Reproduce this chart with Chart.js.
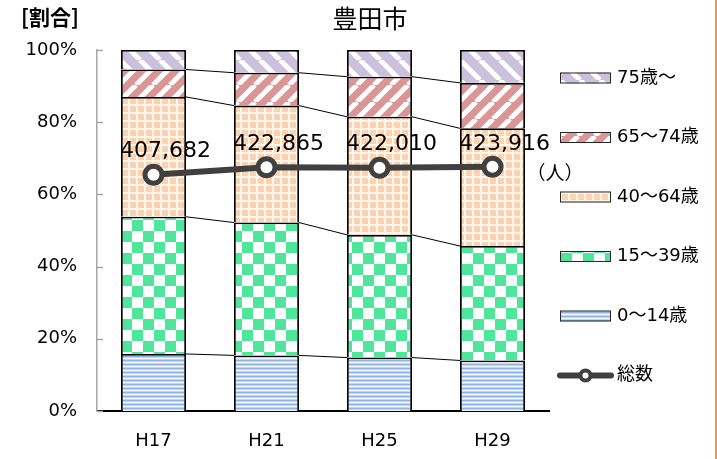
<!DOCTYPE html>
<html lang="ja">
<head>
<meta charset="utf-8">
<title>豊田市 年齢別人口割合</title>
<script src="https://cdn.jsdelivr.net/npm/chart.js@4/dist/chart.umd.min.js"></script>
<style>
  html, body { margin: 0; padding: 0; background: #fff; }
  #wrap { position: relative; width: 717px; height: 459px; overflow: hidden; }
  #wrap::after { content: ""; position: absolute; top: 0; right: 0; width: 2px; height: 100%; background: #f79646; }
  canvas { display: block; }
</style>
</head>
<body>
<div id="wrap"><canvas id="chart" width="717" height="459"></canvas></div>
<script>
// 年次
const categories = ['H17', 'H21', 'H25', 'H29'];

// 年齢区分別の割合（%）
const age0to14  = [15.8, 15.4, 14.8, 14.0];
const age15to39 = [38.0, 36.8, 34.0, 31.7];
const age40to64 = [33.2, 32.4, 32.7, 32.6];
const age65to74 = [7.6, 9.1, 11.1, 12.6];
const age75plus = [5.4, 6.3, 7.4, 9.1];

// 総数（人）
const totalPop = [407682, 422865, 422010, 423916];

// 縦軸の目盛り
const percentTicks = [0, 20, 40, 60, 80, 100];

const LATIN = '"DejaVu Sans", "Noto Sans CJK JP", sans-serif';
const CJK = '"Noto Sans CJK JP", "DejaVu Sans", sans-serif';

// ---- 塗りつぶしパターン ----
function tile(w, h, paint) {
  const c = document.createElement('canvas');
  c.width = w; c.height = h;
  paint(c.getContext('2d'), w, h);
  return c;
}
function stripes(bg, dir, size, lw) {
  return tile(size, size, (g, w, h) => {
    g.fillStyle = bg; g.fillRect(0, 0, w, h);
    g.strokeStyle = '#ffffff'; g.lineWidth = lw;
    for (let k = -1; k <= 1; k++) {
      g.beginPath();
      if (dir === 'back') { g.moveTo(k * w, 0); g.lineTo(k * w + w, h); }
      else { g.moveTo(k * w, h); g.lineTo(k * w + w, 0); }
      g.stroke();
    }
  });
}
const tiles = {
  a75: stripes('#ccc1da', 'back', 20, 5),
  a65: stripes('#d99694', 'fwd', 17, 5),
  a40: tile(8, 8, (g) => {
    g.fillStyle = '#fcd3b1'; g.fillRect(0, 0, 8, 8);
    g.fillStyle = '#fff6ee'; g.fillRect(0, 0, 8, 2); g.fillRect(0, 0, 2, 8);
  }),
  a15: tile(22, 22, (g) => {
    g.fillStyle = '#ffffff'; g.fillRect(0, 0, 22, 22);
    g.fillStyle = '#4fe59a'; g.fillRect(0, 0, 11, 11); g.fillRect(11, 11, 11, 11);
  }),
  a0: tile(4, 4, (g) => {
    const rows = ['#8fb3e2', '#c3d7f0', '#f1f6fc', '#c3d7f0'];
    rows.forEach((col, i) => { g.fillStyle = col; g.fillRect(0, i, 4, 1); });
  })
};
const cv = document.getElementById('chart');
const ctx = cv.getContext('2d');
const pat = {};
Object.keys(tiles).forEach(k => { pat[k] = ctx.createPattern(tiles[k], 'repeat'); });

const barCommon = {
  type: 'bar',
  yAxisID: 'y',
  borderColor: '#000000',
  borderWidth: 1.8,
  borderSkipped: 'start',
  barPercentage: 0.575,
  categoryPercentage: 1,
  order: 2
};

// ---- 区分線（各棒の境界を結ぶ線）----
const seriesLines = {
  id: 'seriesLines',
  beforeDatasetsDraw(chart) {
    const g = chart.ctx;
    g.save();
    g.strokeStyle = '#000'; g.lineWidth = 1;
    chart.data.datasets.forEach((ds, di) => {
      if (ds.type !== 'bar' || di === 4) return;
      const els = chart.getDatasetMeta(di).data;
      for (let i = 0; i < els.length - 1; i++) {
        const a = els[i], b = els[i + 1];
        g.beginPath();
        g.moveTo(a.x + a.width / 2, a.y);
        g.lineTo(b.x - b.width / 2, b.y);
        g.stroke();
      }
    });
    g.restore();
  }
};

// ---- 縦軸の内向き目盛り ----
const innerTicks = {
  id: 'innerTicks',
  afterDraw(chart) {
    const g = chart.ctx, s = chart.scales.y;
    g.save();
    g.strokeStyle = '#a6a6a6'; g.lineWidth = 1.5;
    percentTicks.forEach(v => {
      const y = Math.round(s.getPixelForValue(v)) + 0.5;
      g.beginPath(); g.moveTo(s.right, y); g.lineTo(s.right + 6, y); g.stroke();
    });
    g.restore();
  }
};

// ---- 総数の値ラベル ----
const totalLabels = {
  id: 'totalLabels',
  afterDatasetsDraw(chart) {
    const g = chart.ctx;
    const idx = chart.data.datasets.findIndex(d => d.type === 'line');
    const pts = chart.getDatasetMeta(idx).data;
    g.save();
    g.fillStyle = '#000';
    g.textAlign = 'center'; g.textBaseline = 'middle';
    g.font = '22px ' + LATIN;
    pts.forEach((p, i) => {
      g.fillText(totalPop[i].toLocaleString('en-US'), p.x + 12, p.y - 23);
    });
    const last = pts[pts.length - 1];
    g.textAlign = 'left';
    g.font = '19px ' + CJK;
    g.fillText('（人）', last.x + 34, last.y + 6);
    g.restore();
  }
};

// ---- 見出し ----
const headings = {
  id: 'headings',
  afterDraw(chart) {
    const g = chart.ctx;
    g.save();
    g.fillStyle = '#000'; g.textBaseline = 'middle';
    g.textAlign = 'left';
    g.font = 'bold 21px ' + CJK;
    g.fillText('[割合]', 21, 17);
    g.textAlign = 'center';
    g.font = '25px ' + CJK;
    g.fillText('豊田市', 370, 18);
    g.restore();
  }
};

// ---- 凡例 ----
const sideLegend = {
  id: 'sideLegend',
  afterDraw(chart) {
    const g = chart.ctx;
    const ds = chart.data.datasets;
    const order = [4, 3, 2, 1, 0, 5];
    const x0 = 560, bw = 51, bh = 11, y0 = 78, step = 59.5;
    g.save();
    g.textBaseline = 'middle'; g.textAlign = 'left';
    g.font = '18px ' + LATIN;
    order.forEach((di, k) => {
      const d = ds[di];
      const cy = y0 + k * step;
      if (d.type === 'bar') {
        g.fillStyle = d.backgroundColor;
        g.fillRect(x0, cy - bh / 2, bw, bh);
        g.strokeStyle = '#262626'; g.lineWidth = 1;
        g.strokeRect(x0 + 0.5, cy - bh / 2 + 0.5, bw - 1, bh - 1);
      } else {
        g.strokeStyle = d.borderColor; g.lineWidth = 6; g.lineCap = 'round';
        g.beginPath(); g.moveTo(x0, cy); g.lineTo(x0 + bw, cy); g.stroke();
        g.beginPath(); g.arc(x0 + bw / 2, cy, 5, 0, Math.PI * 2);
        g.fillStyle = '#fff'; g.fill();
        g.lineWidth = 4; g.stroke();
      }
      g.fillStyle = '#000';
      g.fillText(d.label, x0 + bw + 6, cy);
    });
    g.restore();
  }
};

new Chart(ctx, {
  data: {
    labels: categories,
    datasets: [
      Object.assign({ label: '0～14歳',  data: age0to14,  backgroundColor: pat.a0 }, barCommon),
      Object.assign({ label: '15～39歳', data: age15to39, backgroundColor: pat.a15 }, barCommon),
      Object.assign({ label: '40～64歳', data: age40to64, backgroundColor: pat.a40 }, barCommon),
      Object.assign({ label: '65～74歳', data: age65to74, backgroundColor: pat.a65 }, barCommon),
      Object.assign({ label: '75歳～',   data: age75plus, backgroundColor: pat.a75 }, barCommon),
      {
        type: 'line',
        label: '総数',
        data: totalPop,
        yAxisID: 'y2',
        borderColor: '#404040',
        borderWidth: 6,
        pointRadius: 8.5,
        pointBorderWidth: 5,
        pointBackgroundColor: '#ffffff',
        pointBorderColor: '#404040',
        tension: 0,
        order: 1
      }
    ]
  },
  options: {
    responsive: false,
    animation: false,
    devicePixelRatio: 1,
    layout: { padding: { top: 50, right: 168, left: 0, bottom: 0 } },
    plugins: { legend: { display: false }, tooltip: { enabled: false }, title: { display: false } },
    scales: {
      x: {
        stacked: true,
        grid: { display: false, drawTicks: false },
        border: { display: true, color: '#000000', width: 2 },
        ticks: { color: '#000', padding: 20, font: { family: LATIN, size: 18 } },
        afterFit(s) { s.height = 48; }
      },
      y: {
        stacked: true,
        min: 0, max: 100,
        grid: { display: false, drawTicks: false },
        border: { display: true, color: '#a6a6a6', width: 1.5 },
        ticks: { stepSize: 20, padding: 20, color: '#000', font: { family: LATIN, size: 18 }, callback: v => v + '%' },
        afterFit(s) { s.width = 97; }
      },
      y2: { display: false, min: -80000, max: 665000 }
    }
  },
  plugins: [seriesLines, innerTicks, totalLabels, headings, sideLegend]
});
</script>
</body>
</html>
